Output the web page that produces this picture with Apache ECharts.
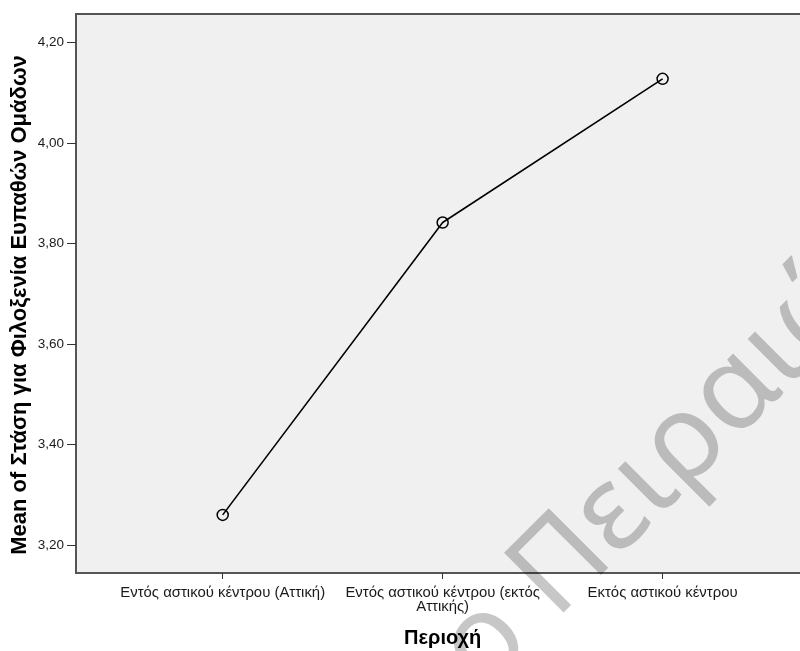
<!DOCTYPE html>
<html>
<head>
<meta charset="utf-8">
<script src="https://cdn.jsdelivr.net/npm/echarts@6/dist/echarts.min.js"></script>
<style>html,body{margin:0;padding:0;background:#fff}#c{width:800px;height:651px}</style>
</head>
<body>
<div id="c"></div>
<script>
var categories = ['Εντός αστικού κέντρου (Αττική)', 'Εντός αστικού κέντρου (εκτός Αττικής)', 'Εκτός αστικού κέντρου'];
var meanValues = [3.260, 3.842, 4.128];
var yTicks = [3.2, 3.4, 3.6, 3.8, 4.0, 4.2];
var yTitle = 'Mean of Στάση για Φιλοξενία Ευπαθών Ομάδων';
var xTitle = 'Περιοχή';
var watermarkA = 'Πανεπιστήμιο ';
var watermarkB = 'Πειραιώς';

var font = '"Liberation Sans", Arial, sans-serif';
var labelSize = 14.9;
var wmFont = '"Noto Sans", sans-serif';
var wmSize = 118;
var ang = Math.PI / 4;

// wrap long category labels at word boundaries (max width in px)
var mctx = document.createElement('canvas').getContext('2d');
mctx.font = labelSize + 'px ' + font;
function wrap(text, maxW) {
  var words = text.split(' '), lines = [], cur = '';
  words.forEach(function (w) {
    var t = cur ? cur + ' ' + w : w;
    if (cur && mctx.measureText(t).width > maxW) { lines.push(cur); cur = w; }
    else cur = t;
  });
  lines.push(cur);
  return lines.join('\n');
}

var chart = echarts.init(document.getElementById('c'), null, {renderer: 'canvas'});
chart.setOption({
  animation: false,
  backgroundColor: '#ffffff',
  grid: {
    left: 76, top: 14, width: 733.3, height: 559,
    outerBoundsMode: 'none', containLabel: false,
    show: true, backgroundColor: '#f0f0f0', borderColor: '#555555', borderWidth: 2
  },
  xAxis: {
    type: 'value', min: -0.667, max: 2.667,
    splitLine: {show: false},
    axisLine: {show: true, onZero: false, lineStyle: {color: '#555555', width: 2}},
    axisTick: {show: true, customValues: categories.map(function (c, i) { return i; }), length: 6, lineStyle: {color: '#333333', width: 1}},
    axisLabel: {
      customValues: categories.map(function (c, i) { return i; }),
      formatter: function (v) { return wrap(categories[Math.round(v)], 222); },
      color: '#1a1a1a', fontFamily: font, fontSize: labelSize, margin: 12,
      lineHeight: 14.8, align: 'center', hideOverlap: false
    },
    name: xTitle, nameLocation: 'middle', nameGap: 55, nameMoveOverlap: false,
    nameTextStyle: {fontFamily: font, fontSize: 20, fontWeight: 'bold', color: '#000'}
  },
  yAxis: {
    type: 'value', min: 3.1443, max: 4.2571,
    splitLine: {show: false},
    axisLine: {show: true, onZero: false, lineStyle: {color: '#555555', width: 2}},
    axisTick: {show: true, customValues: yTicks, length: 9, lineStyle: {color: '#333333', width: 1}},
    axisLabel: {
      customValues: yTicks,
      formatter: function (v) { return v.toFixed(2).replace('.', ','); },
      color: '#1a1a1a', fontFamily: font, fontSize: 13.5, margin: 12
    },
    name: yTitle, nameLocation: 'middle', nameRotate: 90, nameGap: 45, nameMoveOverlap: false,
    nameTextStyle: {fontFamily: font, fontSize: 22, fontWeight: 'bold', color: '#000', padding: [0, 23, 0, 0]}
  },
  series: [{
    type: 'line',
    data: meanValues.map(function (v, i) { return [i, v]; }),
    symbol: 'circle', symbolSize: 11,
    lineStyle: {color: '#000000', width: 1.6},
    itemStyle: {color: 'rgba(0,0,0,0)', borderColor: '#000000', borderWidth: 1.5}
  }],
  graphic: [
    {type: 'text', x: 531.7, y: 596.7, rotation: ang, z: 100,
     style: {text: watermarkB, font: wmSize + 'px ' + wmFont, fill: 'rgba(0,0,0,0.22)', align: 'left', verticalAlign: 'middle'}},
    {type: 'text', x: 531.7, y: 596.7, rotation: ang, z: 100,
     style: {text: watermarkA, font: wmSize + 'px ' + wmFont, fill: 'rgba(0,0,0,0.22)', align: 'right', verticalAlign: 'middle'}}
  ]
});
</script>
</body>
</html>
